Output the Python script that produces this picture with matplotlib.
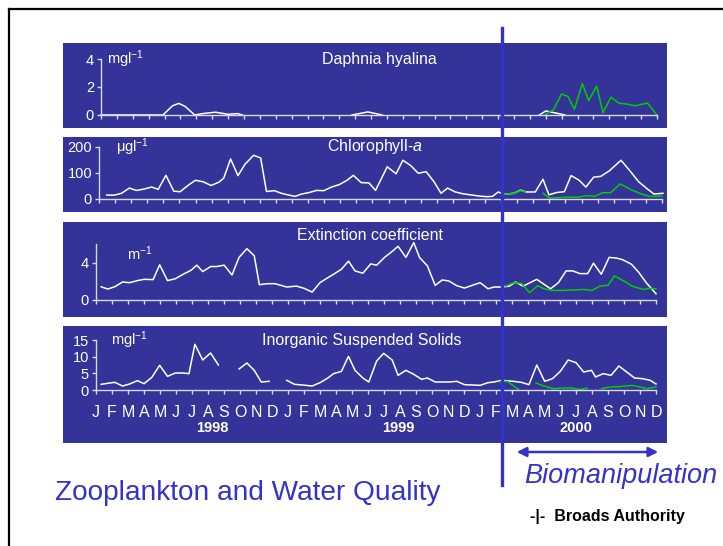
import numpy as np
import matplotlib
matplotlib.use("Agg")
import matplotlib.pyplot as plt
from matplotlib.patches import Rectangle, FancyArrowPatch
from matplotlib.lines import Line2D

plt.rcParams['font.family'] = ['Liberation Sans', 'DejaVu Sans']
plt.rcParams['mathtext.fontset'] = 'custom'
plt.rcParams['mathtext.rm'] = 'Liberation Sans'
plt.rcParams['mathtext.it'] = 'Liberation Sans:italic'

nan = np.nan

# ---- data (x in months from Jan 1998) ----
months = ['J', 'F', 'M', 'A', 'M', 'J', 'J', 'A', 'S', 'O', 'N', 'D'] * 3
years = ['1998', '1999', '2000']
year_pos = [7.3, 18.9, 30.0]

# Daphnia hyalina (mg/l)
daph_x = [0, 3.9, 4.5, 4.9, 5.3, 5.9, 6.4, 7.2, 8.0, 8.6, 8.9, nan,
          15.8, 16.8, 17.7, nan, 27.6, 28.0, 28.8, 29.2]
daph_y = [0, 0, 0.66, 0.83, 0.61, 0, 0.1, 0.2, 0.05, 0.1, 0, nan,
          0, 0.22, 0, nan, 0, 0.29, 0.1, 0]
daph_gx = [28.0, 28.5, 29.0, 29.4, 29.8, 30.3, 30.7, 31.2, 31.6, 32.1,
           32.6, 33.1, 33.6, 34.4, 35.0]
daph_gy = [0.05, 0.41, 1.51, 1.32, 0.41, 2.24, 1.02, 2.07, 0.17, 1.27,
           0.85, 0.78, 0.66, 0.85, 0]

# Chlorophyll-a (ug/l)
chl_x = [0.48, 0.97, 1.40, 1.89, 2.32, 2.78, 3.27, 3.68, 4.16, 4.65, 5.04,
         5.57, 6.00, 6.49, 6.97, 7.46, 7.75, 8.18, 8.64, 9.08, 9.61, 10.05,
         10.41, 10.90, 11.33, 11.74, 12.18, 12.59, 13.08, 13.51, 13.97,
         14.46, 14.96, 15.42, 15.81, 16.30, 16.78, 17.19, 17.92, 18.47,
         18.89, 19.37, 19.85, 20.34, 20.82, 21.26, 21.67, 22.15, 22.64,
         23.20, 23.68, 24.09, 24.46, 24.82, 25.18, 25.79, 26.20, 26.56,
         27.12, 27.60, 27.97, 28.45, 28.93, 29.35, 29.83, 30.27, 30.75,
         31.19, 31.72, 32.45, 33.05, 33.54, 34.02, 34.50, 35.06]
chl_y = [15, 15, 22, 42, 33, 38, 46, 37, 91, 30, 28, 54, 72, 66, 52, 65, 80,
         154, 90, 134, 168, 158, 29, 32, 22, 16, 10, 19, 25, 33, 32, 46, 56,
         72, 91, 63, 62, 33, 124, 97, 149, 129, 99, 105, 67, 22, 42, 27, 20,
         15, 11, 9, 10, 27, 18, 22, 34, 27, 27, 76, 16, 25, 28, 90, 73, 46,
         84, 87, 108, 149, 105, 67, 42, 19, 22]
chl_gx = [25.2, 25.8, 26.2, 26.5, nan, 27.6, 28.0, 28.5, 29.0, 29.8, 30.3,
          30.8, 31.3, 31.8, 32.4, 33.0, 33.6, 34.2, 35.0]
chl_gy = [18, 22, 32, 27, nan, 22, 4, 5, 7, 7, 13, 10, 24, 24, 58, 38, 22,
          10, 11]

# Extinction coefficient (1/m)
ext_x = [0.32, 0.73, 1.17, 1.66, 2.10, 2.59, 3.00, 3.57, 3.98, 4.47, 4.96,
         5.45, 5.94, 6.30, 6.67, 7.16, 7.52, 8.01, 8.50, 8.94, 9.43, 9.89,
         10.21, 10.70, 11.19, 11.92, 12.53, 13.02, 13.51, 14.00, 14.49,
         14.85, 15.34, 15.78, 16.19, 16.68, 17.17, 17.54, 18.03, 18.51,
         18.88, 19.37, 19.86, 20.22, 20.71, 21.20, 21.64, 22.06, 22.55,
         23.03, 23.52, 24.01, 24.50, 24.87, 25.35, 25.84, 26.21, 26.70,
         27.55, 28.41, 28.90, 29.38, 29.80, 30.24, 30.73, 31.09, 31.58,
         32.07, 32.56, 32.93, 33.46, 33.90, 34.39, 35.00]
ext_y = [1.38, 1.13, 1.38, 1.89, 1.82, 2.04, 2.18, 2.15, 3.75, 2.04, 2.25,
         2.73, 3.16, 3.71, 3.02, 3.56, 3.56, 3.71, 2.65, 4.55, 5.49, 4.73,
         1.60, 1.71, 1.71, 1.35, 1.45, 1.20, 0.80, 1.82, 2.36, 2.73, 3.27,
         4.15, 3.09, 2.84, 3.85, 3.71, 4.55, 5.20, 5.75, 4.55, 6.15, 4.55,
         3.64, 1.53, 2.11, 2.00, 1.49, 1.24, 1.53, 1.82, 1.16, 1.35, 1.35,
         1.45, 1.89, 1.45, 2.18, 1.16, 1.82, 3.09, 3.09, 2.80, 2.80, 3.93,
         2.73, 4.55, 4.47, 4.29, 3.82, 2.98, 1.82, 0.62]
ext_gx = [25.6, 26.1, 26.6, 27.1, 27.6, 28.0, 28.5, 29.1, 29.8, 30.5, 31.0,
          31.5, 32.0, 32.4, 33.1, 33.5, 34.2, 34.6, 35.0]
ext_gy = [1.45, 1.82, 1.75, 0.73, 1.49, 1.16, 0.98, 0.98, 1.02, 1.09, 0.98,
          1.45, 1.53, 2.55, 1.89, 1.45, 1.09, 1.20, 1.16]

# Inorganic suspended solids (mg/l)
iss_x = [0.32, 0.73, 1.17, 1.66, 2.10, 2.59, 3.00, 3.49, 3.98, 4.47, 4.96,
         5.45, 5.81, 6.18, 6.67, 7.16, 7.65, nan, 8.94, 9.43, 9.89, 10.33,
         10.82, nan, 11.92, 12.41, 12.90, 13.51, 14.00, 14.49, 14.85, 15.34,
         15.78, 16.19, 16.68, 17.05, 17.54, 17.98, 18.51, 18.88, 19.37,
         19.86, 20.35, 20.71, 21.20, 21.64, 22.06, 22.55, 23.03, 23.52,
         24.01, 24.50, 24.87, 25.35, 26.09, 26.58, 27.06, 27.55, 28.04,
         28.53, 29.02, 29.51, 30.00, 30.48, 30.97, 31.22, 31.70, 32.19,
         32.68, 33.17, 33.66, 34.15, 34.64, 35.00]
iss_y = [1.7, 2.0, 2.3, 1.2, 1.8, 2.8, 1.9, 3.8, 7.4, 4.1, 5.1, 5.1, 4.9,
         13.7, 9.0, 11.1, 7.5, nan, 6.3, 8.1, 5.9, 2.4, 2.6, nan, 2.9, 1.7,
         1.5, 1.2, 2.2, 3.6, 4.9, 5.6, 10.1, 5.9, 3.6, 2.4, 8.7, 11.0, 9.0,
         4.4, 5.9, 4.7, 3.2, 3.6, 2.4, 2.4, 2.4, 2.6, 1.6, 1.5, 1.4, 2.2,
         2.4, 2.9, 2.6, 2.3, 1.6, 7.5, 2.6, 3.4, 5.6, 9.0, 8.2, 5.4, 5.9,
         3.9, 4.9, 4.4, 7.2, 5.4, 3.6, 3.4, 2.9, 1.8]
iss_gx = [25.2, 25.7, 26.4, nan, 27.5, 28.0, 28.6, 29.1, 29.8, 30.2, 30.7,
          nan, 31.6, 32.1, 32.7, 33.5, 34.2, 34.4, 35.0]
iss_gy = [2.4, 2.6, 0.2, nan, 2.1, 1.2, 0.4, 0.6, 0.6, 0.1, 0.6, nan, 0.4,
          0.9, 1.0, 1.4, 0.7, 0.4, 0.9]

# ---- styling ----
W, H = 723, 546
panel_col = '#333399'
accent = '#3333cc'
axis_col = '#d8d8f0'
green = '#00cc00'
title_fs = 11.5

fig = plt.figure(figsize=(W / 100, H / 100), dpi=100)
fig.patch.set_facecolor('white')


def fx(px):
    return px / W


def fy(py):
    return 1 - py / H


# slide frame
fig.add_artist(Line2D([fx(9), fx(9)], [fy(9), 0], color='black', lw=1.6))
fig.add_artist(Line2D([fx(9), 1], [fy(9), fy(9)], color='black', lw=1.6))

# blue panels (behind the axes)
for top, bot in [(43, 128), (137, 212), (222, 317), (326, 443)]:
    fig.add_artist(Rectangle((fx(63), fy(bot)), fx(667) - fx(63), fy(top) - fy(bot),
                             facecolor=panel_col, edgecolor='none', zorder=-5))


def make_axes(x0, x1, ytop, ybot, ymax, yticks, labels=False):
    ax = fig.add_axes([fx(x0), fy(ybot), fx(x1) - fx(x0), fy(ytop) - fy(ybot)])
    ax.patch.set_alpha(0)
    ax.set_xlim(0, 35)
    ax.set_ylim(0, ymax)
    for s in ['top', 'right']:
        ax.spines[s].set_visible(False)
    for s in ['left', 'bottom']:
        ax.spines[s].set_color(axis_col)
        ax.spines[s].set_linewidth(1.0)
    ax.set_xticks(range(36))
    ax.set_yticks(yticks)
    ax.set_yticklabels([str(t) for t in yticks])
    ax.tick_params(axis='x', colors=axis_col, length=3, width=1, direction='out')
    ax.tick_params(axis='y', colors=axis_col, length=3, width=1, direction='out',
                   labelcolor='white', labelsize=10.5, pad=2)
    if labels:
        ax.set_xticklabels(months)
        ax.tick_params(axis='x', labelcolor='white', labelsize=11.5, pad=8)
    else:
        ax.set_xticklabels([])
    return ax


lw = 1.1

# Daphnia
ax1 = make_axes(101, 657, 59, 115, 4, [0, 2, 4])
ax1.plot(daph_x, daph_y, color='white', lw=lw, clip_on=False)
ax1.plot(daph_gx, daph_gy, color=green, lw=lw, clip_on=False)
ax1.text(0.01, 1.0, 'mgl$^{-1}$', transform=ax1.transAxes, color='white',
         fontsize=10.5, va='center', ha='left')
ax1.text(0.5, 1.0, 'Daphnia hyalina', transform=ax1.transAxes, color='white',
         fontsize=title_fs, va='center', ha='center')

# Chlorophyll
ax2 = make_axes(99, 662, 147, 199, 200, [0, 100, 200])
ax2.plot(chl_x, chl_y, color='white', lw=lw, clip_on=False)
ax2.plot(chl_gx, chl_gy, color=green, lw=lw, clip_on=False)
ax2.text(0.03, 1.0, r'$\mathrm{\mu}$gl$^{-1}$', transform=ax2.transAxes,
         color='white', fontsize=10.5, va='center', ha='left')
ax2.text(0.49, 1.0, 'Chlorophyll-$\\it{a}$', transform=ax2.transAxes, color='white',
         fontsize=title_fs, va='center', ha='center')

# Extinction coefficient
ax3 = make_axes(96, 656, 244, 299.5, 6, [0, 4])
ax3.plot(ext_x, ext_y, color='white', lw=lw, clip_on=False)
ax3.plot(ext_gx, ext_gy, color=green, lw=lw, clip_on=False)
ax3.text(0.055, 0.83, 'm$^{-1}$', transform=ax3.transAxes, color='white',
         fontsize=10.5, va='center', ha='left')
ax3.text(0.49, 1.16, 'Extinction coefficient', transform=ax3.transAxes,
         color='white', fontsize=title_fs, va='center', ha='center')

# Inorganic suspended solids
ax4 = make_axes(96, 656, 340, 390, 15, [0, 5, 10, 15], labels=True)
ax4.plot(iss_x, iss_y, color='white', lw=lw, clip_on=False)
ax4.plot(iss_gx, iss_gy, color=green, lw=lw, clip_on=False)
ax4.text(0.027, 1.0, 'mgl$^{-1}$', transform=ax4.transAxes, color='white',
         fontsize=10.5, va='center', ha='left')
ax4.text(0.475, 1.0, 'Inorganic Suspended Solids', transform=ax4.transAxes,
         color='white', fontsize=title_fs, va='center', ha='center')
for yr, pos in zip(years, year_pos):
    ax4.annotate(yr, xy=(pos, 0), xycoords=('data', 'axes fraction'),
                 xytext=(0, -27), textcoords='offset points', color='white',
                 fontsize=10.5, fontweight='bold', ha='center', va='center')

# biomanipulation marker (drawn over the panels)
fig.add_artist(Line2D([fx(502), fx(502)], [fy(28), fy(485)], color=accent, lw=2.4,
                      zorder=10))
fig.add_artist(FancyArrowPatch((fx(514), fy(452)), (fx(661), fy(452)),
                               transform=fig.transFigure, arrowstyle='<|-|>',
                               mutation_scale=14, color=accent, lw=1.8, zorder=10))
fig.text(fx(524), fy(476), 'Biomanipulation', color=accent, fontsize=19.5,
         style='italic', va='center', ha='left')
fig.text(fx(55), fy(493), 'Zooplankton and Water Quality', color=accent,
         fontsize=20.2, va='center', ha='left')
fig.text(fx(530), fy(517), '-|-  Broads Authority', color='black', fontsize=11.5,
         fontweight='bold', va='center', ha='left')

fig.savefig('out.png', dpi=100, facecolor='white')
